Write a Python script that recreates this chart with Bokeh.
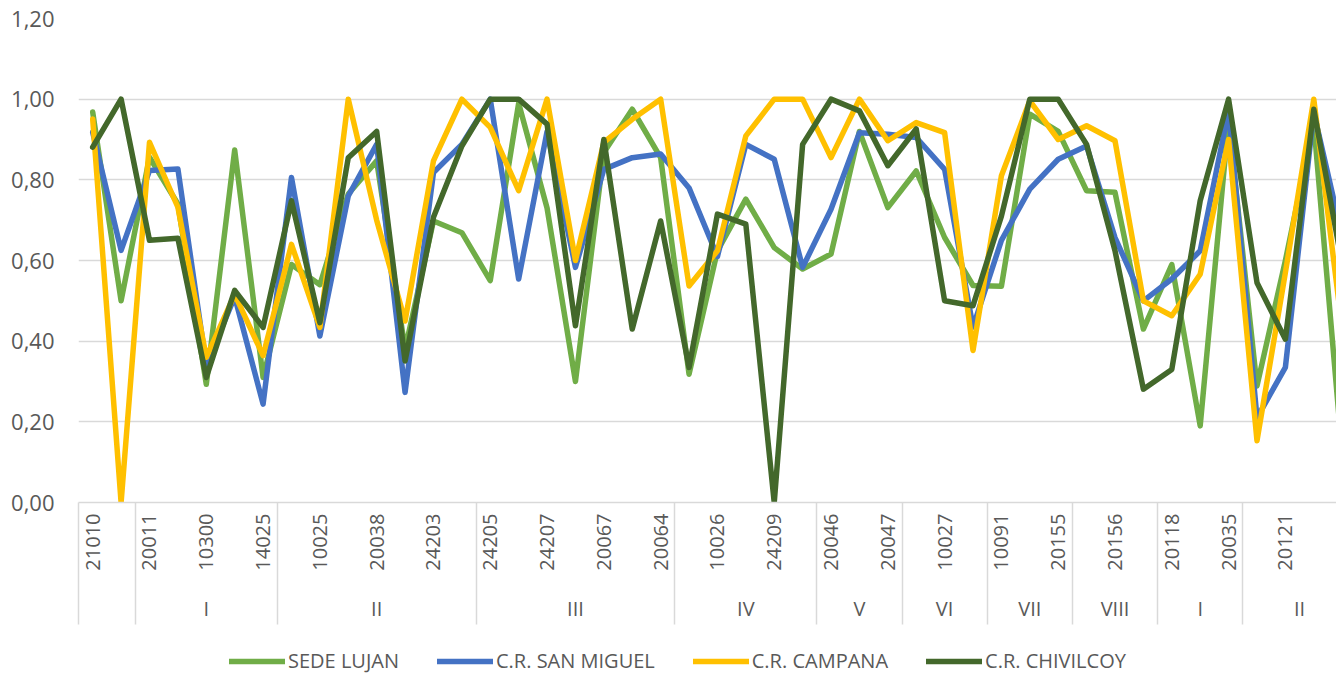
from math import pi
from bokeh.plotting import figure
from bokeh.layouts import column
from bokeh.models import Range1d, FixedTicker, LinearAxis, Legend, LegendItem
from bokeh.embed import file_html
from bokeh.resources import INLINE

# ---- data ----
tick_codes = ["21010", "20011", "10300", "14025", "10025", "20038", "24203", "24205",
              "24207", "20067", "20064", "10026", "24209", "20046", "20047", "10027",
              "10091", "20155", "20156", "20118", "20035", "20121"]
group_names = ["", "I", "II", "III", "IV", "V", "VI", "VII", "VIII", "I", "II"]
group_sizes = [2, 5, 7, 7, 5, 3, 3, 3, 3, 3, 4]

y_ticks = [0.0, 0.2, 0.4, 0.6, 0.8, 1.0, 1.2]
y_labels = ["0,00", "0,20", "0,40", "0,60", "0,80", "1,00", "1,20"]

series_names = ["SEDE LUJAN", "C.R. SAN MIGUEL", "C.R. CAMPANA", "C.R. CHIVILCOY"]
series_colors = ["#70AD47", "#4472C4", "#FFC000", "#43682B"]

sede_lujan = [0.968, 0.50, 0.856, 0.74, 0.293, 0.874, 0.31, 0.59, 0.54, 0.765,
              0.847, 0.38, 0.698, 0.669, 0.55, 0.99, 0.73, 0.30, 0.868, 0.975,
              0.855, 0.318, 0.624, 0.752, 0.632, 0.579, 0.616, 0.92, 0.731, 0.822,
              0.657, 0.538, 0.536, 0.963, 0.92, 0.773, 0.769, 0.43, 0.59, 0.19,
              0.946, 0.289, 0.60, 0.94, 0.12]
san_miguel = [0.918, 0.625, 0.823, 0.827, 0.34, 0.51, 0.244, 0.806, 0.413, 0.76,
              0.888, 0.273, 0.818, 0.888, 1.0, 0.554, 0.92, 0.583, 0.826, 0.855,
              0.864, 0.78, 0.61, 0.888, 0.851, 0.583, 0.727, 0.917, 0.913, 0.905,
              0.826, 0.435, 0.65, 0.777, 0.851, 0.884, 0.657, 0.50, 0.554, 0.624,
              0.971, 0.21, 0.335, 0.967, 0.66]
campana = [0.951, 0.0, 0.893, 0.732, 0.36, 0.516, 0.364, 0.64, 0.434, 1.0,
           0.70, 0.45, 0.847, 1.0, 0.93, 0.773, 1.0, 0.60, 0.893, 0.95,
           1.0, 0.537, 0.624, 0.909, 1.0, 1.0, 0.855, 1.0, 0.897, 0.942,
           0.917, 0.377, 0.81, 0.996, 0.90, 0.934, 0.897, 0.50, 0.463, 0.566,
           0.90, 0.153, 0.57, 1.0, 0.43]
chivilcoy = [0.881, 1.0, 0.65, 0.655, 0.31, 0.526, 0.434, 0.748, 0.446, 0.855,
             0.92, 0.351, 0.707, 0.884, 1.0, 1.0, 0.938, 0.438, 0.90, 0.43,
             0.698, 0.335, 0.715, 0.69, 0.0, 0.888, 1.0, 0.971, 0.835, 0.926,
             0.50, 0.488, 0.71, 1.0, 1.0, 0.888, 0.624, 0.281, 0.33, 0.748,
             1.0, 0.545, 0.405, 0.975, 0.59]

all_series = [sede_lujan, san_miguel, campana, chivilcoy]
x = list(range(len(sede_lujan)))

# ---- derived axis positions ----
code_pos = [2 * i for i in range(len(tick_codes))]
bounds = [-0.5]
for s in group_sizes:
    bounds.append(bounds[-1] + s)
centers = [(bounds[i] + bounds[i + 1]) / 2 for i in range(len(group_sizes))]
grp_ticks = [c for c, n in zip(centers, group_names) if n]
grp_over = {c: n for c, n in zip(centers, group_names) if n}

FONT = "Open Sans"
TXT = "#595959"
GRID = "#d9d9d9"

p = figure(frame_width=1258, frame_height=484, output_backend="svg", toolbar_location=None,
           x_range=Range1d(-0.5, 43.8), y_range=Range1d(0, 1.2),
           x_axis_type=None, min_border_left=78, min_border_right=0,
           min_border_top=18, min_border_bottom=130)
p.outline_line_color = None

p.yaxis.ticker = FixedTicker(ticks=y_ticks)
p.yaxis.major_label_overrides = dict(zip(y_ticks, y_labels))
p.yaxis.axis_line_color = None
p.yaxis.major_tick_line_color = None
p.yaxis.minor_tick_line_color = None
p.yaxis.major_label_standoff = 18
p.yaxis.major_label_text_font = FONT
p.yaxis.major_label_text_font_size = "22px"
p.yaxis.major_label_text_color = TXT
p.ygrid.grid_line_color = GRID
p.ygrid.grid_line_width = 1.5

for name, color, ys in zip(series_names, series_colors, all_series):
    p.line(x, ys, line_width=5.5, line_color=color, line_join="round", line_cap="round")

# inner category codes (every second one is labelled)
ax1 = LinearAxis(ticker=FixedTicker(ticks=code_pos, minor_ticks=[]),
                 major_label_overrides=dict(zip(code_pos, tick_codes)),
                 major_label_orientation=pi / 2,
                 major_tick_out=0, major_tick_in=0, major_tick_line_color=None,
                 minor_tick_line_color=None,
                 axis_line_color=GRID, axis_line_width=1.5,
                 major_label_standoff=11,
                 major_label_text_font=FONT, major_label_text_font_size="20px",
                 major_label_text_color=TXT)
p.add_layout(ax1, "below")

# outer group labels
ax2 = LinearAxis(ticker=FixedTicker(ticks=grp_ticks, minor_ticks=[]),
                 major_label_overrides=grp_over,
                 major_tick_out=0, major_tick_in=0, major_tick_line_color=None,
                 minor_tick_line_color=None, axis_line_color=None,
                 major_label_standoff=21,
                 major_label_text_font=FONT, major_label_text_font_size="20px",
                 major_label_text_color=TXT)
p.add_layout(ax2, "below")

# group separators: inward ticks of an invisible axis below the group labels
ax3 = LinearAxis(ticker=FixedTicker(ticks=bounds, minor_ticks=[]),
                 major_label_overrides={b: "" for b in bounds},
                 major_tick_out=0, major_tick_in=122,
                 major_tick_line_color=GRID, major_tick_line_width=1.5,
                 minor_tick_line_color=None, axis_line_color=None,
                 major_label_standoff=0, major_label_text_font_size="1px")
p.add_layout(ax3, "below")

# legend in its own strip below the chart
pl = figure(width=1336, height=44, output_backend="svg", toolbar_location=None,
            x_axis_type=None, y_axis_type=None, min_border=0,
            x_range=Range1d(0, 1), y_range=Range1d(0, 1))
pl.outline_line_color = None
pl.xgrid.visible = False
pl.ygrid.visible = False
items = []
for name, color in zip(series_names, series_colors):
    r = pl.line([0.0], [float("nan")], line_width=5.5, line_color=color, line_cap="round")
    items.append(LegendItem(label=name, renderers=[r]))
legend = Legend(items=items, orientation="horizontal", location=(151, 2),
                border_line_color=None, background_fill_alpha=0,
                label_text_font=FONT, label_text_font_size="20px", label_text_color=TXT,
                glyph_width=56, glyph_height=20, label_standoff=3, spacing=38,
                padding=0, margin=0)
pl.add_layout(legend, "center")

layout = column(p, pl, spacing=0)
open("out.html", "w").write(file_html(layout, INLINE))
